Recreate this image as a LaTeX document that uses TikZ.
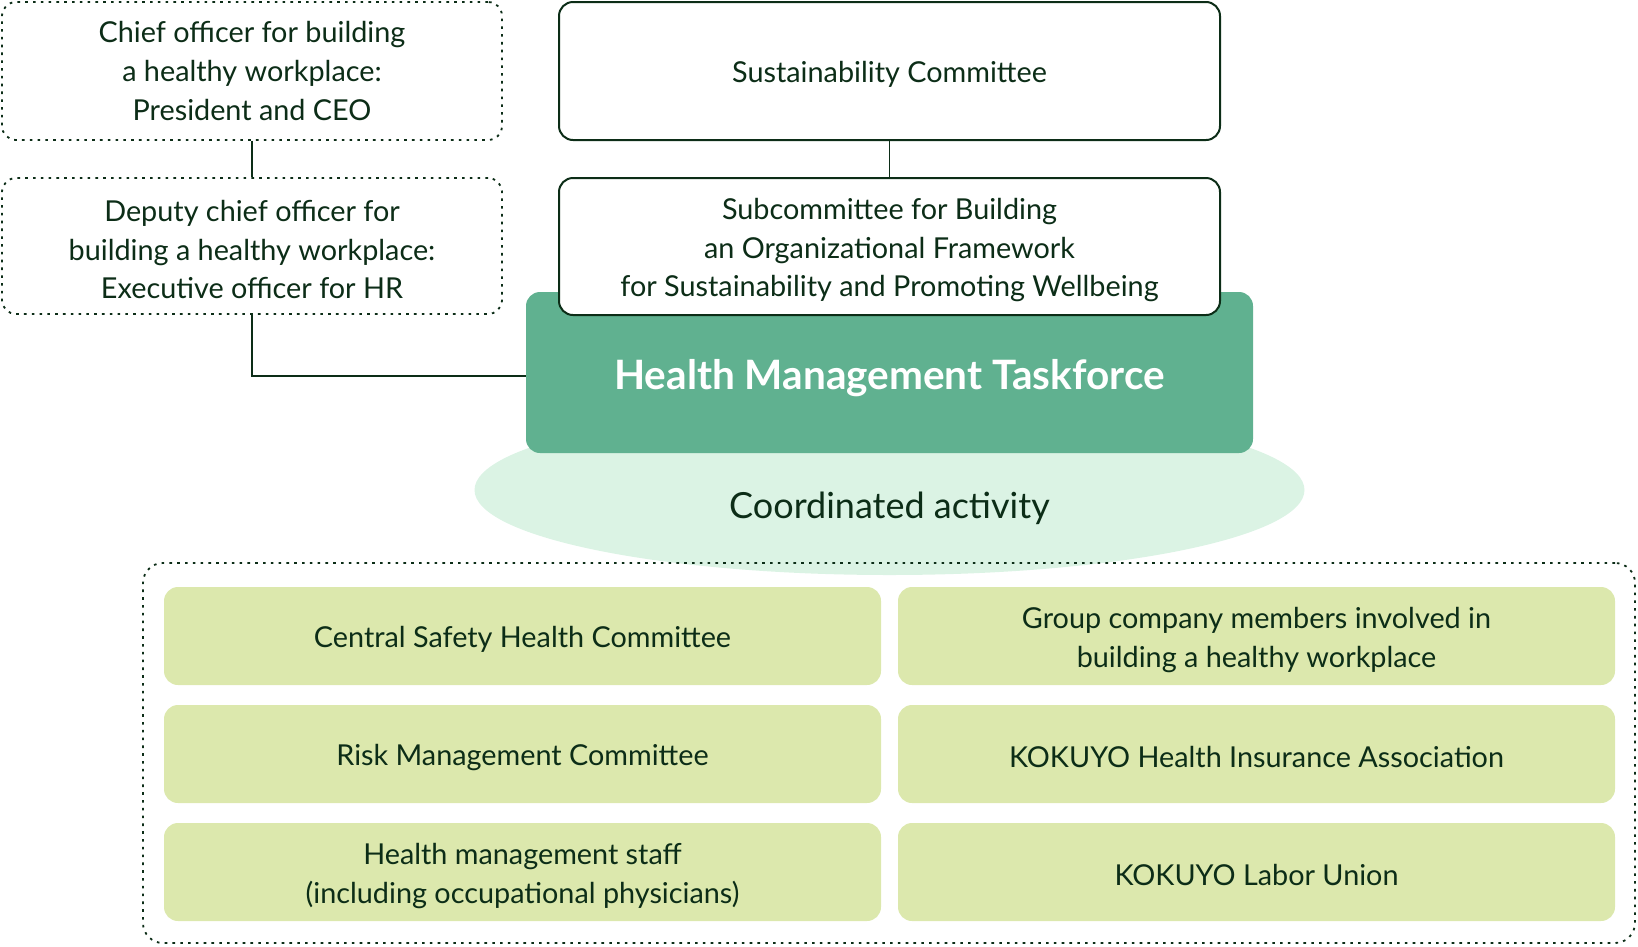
\documentclass[tikz,border=0pt]{standalone}
\usepackage{fontspec}
\setmainfont{Lato}
\usetikzlibrary{shapes.geometric}
\definecolor{ink}{HTML}{0C2D17}
\definecolor{tfgreen}{HTML}{60B190}
\definecolor{coordfill}{HTML}{DBF3E4}
\definecolor{memfill}{HTML}{DCE8AD}
\newcommand{\firstlift}{\rule{0pt}{29pt}}
\tikzset{
  basetxt/.style={text=ink, align=center, inner sep=0pt, font=\fontsize{28.8}{38.6}\selectfont,
    execute at begin node={\rule{0pt}{28pt}}},
  dotbox/.style={basetxt, draw=ink, line width=1.8pt, dash pattern=on 2.6pt off 5.2pt, rounded corners=14pt, fill=white},
  whitebox/.style={basetxt, draw=ink, line width=2pt, rounded corners=14pt, fill=white},
  tfbox/.style={fill=tfgreen, rounded corners=14pt, inner sep=0pt},
  tftext/.style={text=white, inner sep=0pt, font=\fontsize{40.5}{44}\selectfont\bfseries},
  coordtext/.style={text=ink, inner sep=0pt, font=\fontsize{36}{40}\selectfont},
  membox/.style={basetxt, fill=memfill, rounded corners=14pt, minimum width=717pt, minimum height=98pt},
  conn/.style={draw=ink, line width=1.8pt},
}
\begin{document}
\begin{tikzpicture}[x=1pt,y=-1pt]
\useasboundingbox (0,0) rectangle (1638,946);
% coordinated activity ellipse
\node[ellipse, fill=coordfill, minimum width=830pt, minimum height=170pt, inner sep=0pt] (coordell) at (889.5,490) {};
\node[coordtext] (coordtxt) at (889.5,508) {Coordinated activity};
% outer dotted box
\node[draw=ink, line width=1.8pt, dash pattern=on 2.6pt off 5.2pt, rounded corners=20pt, minimum width=1492pt, minimum height=380pt, inner sep=0pt] (outer) at (889,753) {};
% member boxes
\node[membox] (m1) at (522.5,636) {Central Safety Health Committee};
\node[membox] (m2) at (522.5,754) {Risk Management Committee};
\node[membox] (m3) at (522.5,872) {\firstlift Health management staff\\(including occupational physicians)};
\node[membox] (m4) at (1256.5,636) {\firstlift Group company members involved in\\building a healthy workplace};
\node[membox] (m5) at (1256.5,754) {KOKUYO Health Insurance Association};
\node[membox] (m6) at (1256.5,872) {KOKUYO Labor Union};
% taskforce
\node[tfbox, minimum width=727pt, minimum height=161pt] (tf) at (889.5,372.5) {};
\node[tftext] (tftxt) at (889.5,378) {Health Management Taskforce};
% committees
\node[whitebox, minimum width=661pt, minimum height=138pt] (sust) at (889.5,71) {Sustainability Committee};
\node[whitebox, minimum width=661pt, minimum height=137pt] (sub) at (889.5,246.5) {\firstlift Subcommittee for Building\\an Organizational Framework\\for Sustainability and Promoting Wellbeing};
% officers
\node[dotbox, minimum width=500pt, minimum height=138pt] (chief) at (252,71) {Chief officer for building\\a healthy workplace:\\President and CEO};
\node[dotbox, minimum width=500pt, minimum height=136pt] (deputy) at (252,246) {\firstlift Deputy chief officer for\\building a healthy workplace:\\Executive officer for HR};
% connectors
\coordinate (tfjoin) at (tf.west |- 0,376);
\draw[conn] (chief.south) -- (deputy.north);
\draw[conn] (sust.south) -- (sub.north);
\draw[conn] (deputy.south) |- (tfjoin);
\end{tikzpicture}
\end{document}
